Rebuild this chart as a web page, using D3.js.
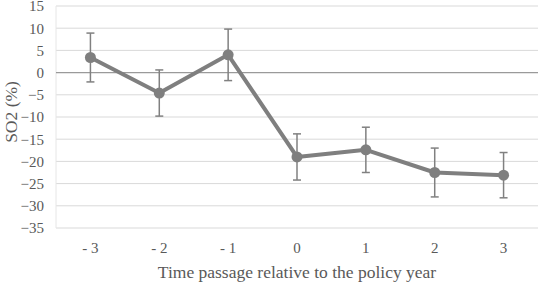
<!DOCTYPE html>
<html><head><meta charset="utf-8">
<script src="https://cdn.jsdelivr.net/npm/d3@7"></script>
<style>body{margin:0;background:#fff}svg{display:block}
text{font-family:'Liberation Serif','Times New Roman',serif}</style>
</head><body>
<script>
const categories = ["- 3", "- 2", "- 1", "0", "1", "2", "3"];
const values = [3.4, -4.6, 4.0, -19.0, -17.4, -22.5, -23.1];
const errors = [5.5, 5.2, 5.8, 5.2, 5.1, 5.5, 5.1];
const yTicks = [15, 10, 5, 0, -5, -10, -15, -20, -25, -30, -35];
const xTitle = "Time passage relative to the policy year";
const yTitle = "SO2 (%)";

const W = 540, H = 282;
const m = {l: 56, r: 2, t: 6, b: 54};
const svg = d3.select("body").append("svg").attr("width", W).attr("height", H);
const x = d3.scaleBand().domain(categories).range([m.l, W - m.r]);
const y = d3.scaleLinear().domain([-35, 15]).range([H - m.b, m.t]);
const font = "'Liberation Serif', 'Times New Roman', serif";

// gridlines
svg.append("g").selectAll("line").data(yTicks.filter(d => d !== 0)).join("line")
  .attr("x1", m.l).attr("x2", W - m.r)
  .attr("y1", d => y(d)).attr("y2", d => y(d))
  .attr("stroke", "#d9d9d9").attr("stroke-width", 1);
svg.append("line").attr("x1", m.l).attr("x2", m.l).attr("y1", y(15)).attr("y2", y(-35))
  .attr("stroke", "#e6e6e6").attr("stroke-width", 1);
// zero line
svg.append("line").attr("x1", m.l).attr("x2", W - m.r).attr("y1", y(0)).attr("y2", y(0))
  .attr("stroke", "#9a9a9a").attr("stroke-width", 1.2);

// y axis labels
const yAxis = d3.axisLeft(y).tickValues(yTicks).tickSize(0).tickPadding(12);
const ga = svg.append("g").attr("transform", `translate(${m.l},0)`).call(yAxis);
ga.select(".domain").remove();
ga.attr("font-family", null);
ga.selectAll("text").style("font-family", font).style("font-size", "15px").attr("fill", "#595959");

// x axis labels
const xAxis = d3.axisBottom(x).tickSize(0).tickPadding(0);
const gx = svg.append("g").attr("transform", `translate(0,${H - m.b + 14})`).call(xAxis);
gx.select(".domain").remove();
gx.attr("font-family", null);
gx.selectAll("text").style("font-family", font).style("font-size", "15px").attr("fill", "#595959");

const cx = d => x(d) + x.bandwidth() / 2;
const data = categories.map((c, i) => ({c, v: values[i], e: errors[i]}));

// error bars
const eb = svg.append("g").attr("stroke", "#808080").attr("stroke-width", 1.5);
data.forEach(d => {
  eb.append("line").attr("x1", cx(d.c)).attr("x2", cx(d.c)).attr("y1", y(d.v + d.e)).attr("y2", y(d.v - d.e));
  [d.v + d.e, d.v - d.e].forEach(v => eb.append("line")
    .attr("x1", cx(d.c) - 4).attr("x2", cx(d.c) + 4).attr("y1", y(v)).attr("y2", y(v)));
});

// line
svg.append("path").datum(data)
  .attr("d", d3.line().x(d => cx(d.c)).y(d => y(d.v)))
  .attr("fill", "none").attr("stroke", "#7f7f7f").attr("stroke-width", 4).attr("stroke-linejoin", "round");
svg.append("g").selectAll("circle").data(data).join("circle")
  .attr("cx", d => cx(d.c)).attr("cy", d => y(d.v)).attr("r", 5.5).attr("fill", "#7f7f7f");

// titles
svg.append("text").attr("x", (m.l + W - m.r) / 2).attr("y", 278)
  .attr("text-anchor", "middle").style("font-size", "17.5px").attr("fill", "#595959").text(xTitle);
svg.append("text").attr("transform", `translate(17,112) rotate(-90)`)
  .attr("text-anchor", "middle").style("font-size", "17.5px").attr("fill", "#595959").text(yTitle);
</script>
</body></html>
